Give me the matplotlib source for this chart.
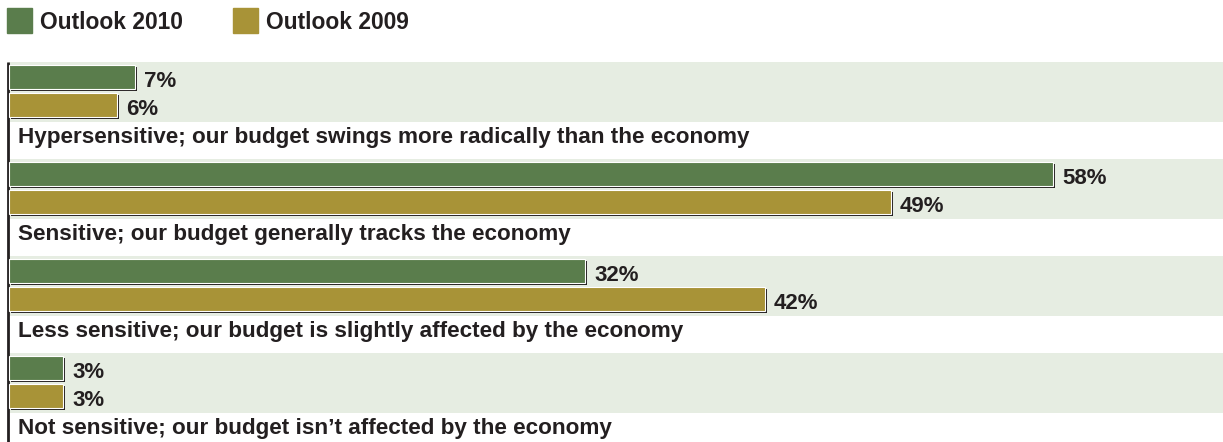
import matplotlib
matplotlib.use("Agg")
import matplotlib.pyplot as plt
import matplotlib.patheffects as pe
from matplotlib.patches import Rectangle

categories = [
    "Hypersensitive; our budget swings more radically than the economy",
    "Sensitive; our budget generally tracks the economy",
    "Less sensitive; our budget is slightly affected by the economy",
    "Not sensitive; our budget isn\u2019t affected by the economy",
]
outlook_2010 = [7, 58, 32, 3]
outlook_2009 = [6, 49, 42, 3]
series_names = ["Outlook 2010", "Outlook 2009"]

GREEN = "#5a7d4c"
GOLD = "#a89337"
BAND = "#e6ede2"
INK = "#231f20"

plt.rcParams["font.family"] = ["Liberation Sans", "DejaVu Sans"]
plt.rcParams["font.weight"] = "bold"

W, H = 1223, 442
fig = plt.figure(figsize=(W / 100, H / 100), dpi=100)

# plot area: starts at the axis line, below the legend
ax = fig.add_axes([8 / W, 0, 1 - 8 / W, 380 / H])
ax.set_xlim(-1 / 18, (W - 9) / 18)
ax.set_ylim(380, 0)
ax.axis("off")
ax.plot([-1 / 18, -1 / 18], [0, 380], color=INK, lw=2, solid_capstyle="butt",
        clip_on=False)

step = 97
shadow = [pe.SimplePatchShadow(offset=(1.6, -1.6), shadow_rgbFace=INK, alpha=1),
          pe.Normal()]

for i, (cat, v10, v09) in enumerate(zip(categories, outlook_2010, outlook_2009)):
    top = i * step
    ax.axhspan(top, top + 60, color=BAND, lw=0, zorder=0)
    for val, color, yc in [(v10, GREEN, top + 15), (v09, GOLD, top + 43)]:
        b = ax.barh(yc, val, height=24, left=0, color=color, edgecolor="white",
                    lw=0.8, zorder=2)
        b[0].set_path_effects(shadow)
        ax.annotate(f"{val}%", (val, yc + 10), xytext=(9, 0),
                    textcoords="offset pixels", va="baseline", ha="left",
                    fontsize=16, color=INK, fontweight="bold")
    ax.text(0.5, top + 81, cat, va="baseline", ha="left", fontsize=16.2,
            color=INK, fontweight="bold")

# legend across the top
for name, color, x0 in zip(series_names, [GREEN, GOLD], [7, 233]):
    fig.patches.append(Rectangle((x0 / W, 1 - 33 / H), 25 / W, 25 / H,
                                 transform=fig.transFigure, color=color))
    fig.text((x0 + 33) / W, 1 - 29 / H, name, va="baseline", ha="left",
             fontsize=16.4, color=INK, fontweight="bold")

fig.savefig("out.png", dpi=100)
